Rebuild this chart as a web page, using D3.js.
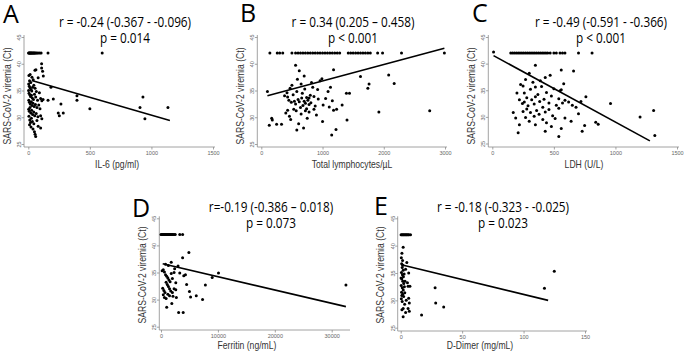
<!DOCTYPE html>
<html><head><meta charset="utf-8">
<script src="https://cdn.jsdelivr.net/npm/d3@7"></script>
<style>body{margin:0;background:#fff}svg{display:block}</style>
</head><body>
<svg id="c" width="685" height="352"></svg>
<script>
// ---------- data ----------
const yTicks = [25, 30, 35, 40, 45];
const ticksA = [0, 500, 1000, 1500];
const ticksB = [0, 1000, 2000, 3000];
const ticksC = [0, 500, 1000, 1500];
const ticksD = [0, 10000, 20000, 30000];
const ticksE = [0, 50, 100, 150];

const labelsX = ["IL-6 (pg/ml)", "Total lymphocytes/µL", "LDH (U/L)", "Ferritin (ng/mL)", "D-Dimer (mg/mL)"];
const labelY = "SARS-CoV-2 viremia (Ct)";
const letters = ["A", "B", "C", "D", "E"];
const statsA = ["r = -0.24 (-0.367 - -0.096)", "p = 0.014"];
const statsB = ["r = 0.34 (0.205 \u2013 0.458)", "p < 0.001"];
const statsC = ["r = -0.49 (-0.591 - -0.366)", "p < 0.001"];
const statsD = ["r=-0.19 (-0.386 \u2013 0.018)", "p = 0.073"];
const statsE = ["r = -0.18 (-0.323 - -0.025)", "p = 0.023"];

const fitA = [[28, 36.85], [1150, 29.4]];
const fitB = [[100, 34.0], [2990, 42.9]];
const fitC = [[10, 41.5], [1280, 25.5]];
const fitD = [[300, 36.6], [32500, 28.7]];
const fitE = [[0.5, 36.5], [120, 30.0]];

const pointsA = [
 [2,42],[6,42],[10,42],[14,42],[18,42],[22,42],[26,42],[30,42],[35,42],[40,42],[45,42],[50,42],[55,42],[62,42],[70,42],[80,42],[92,42],[104,42],[160,42],[600,42],
 [108,40],[108,39.2],[116,38.6],[54,38.8],[62,38.9],[80,37.4],[122,37.7],[15,38],[30,37.5],[40,37],[10,36.8],[20,36.5],[5,37.8],[3,36.2],
 [8,35.8],[14,35.5],[22,35.2],[28,34.9],[35,35.6],[45,36],[55,35.4],[65,34.8],[2,35],[6,34.5],[12,34.2],[18,33.9],[25,34.1],[32,33.6],[42,33.3],[50,34.3],
 [60,33.8],[75,33.2],[90,34.6],[100,33.5],[110,33.1],[120,33.3],[4,33.2],[9,32.8],[16,32.5],[24,32.9],[30,32.2],[38,32.6],[48,32],[58,32.4],[70,31.8],
 [85,32.3],[95,31.6],[3,31.5],[8,31.1],[14,31.8],[20,30.8],[27,31.3],[35,30.5],[44,31],[52,30.3],[64,30.7],[78,30.1],[100,30.3],[110,29.7],
 [5,30.2],[12,29.5],[18,29],[25,29.8],[33,29.2],[45,28.8],[10,28.6],[22,28.2],[38,27.8],[50,27.3],[55,26.8],[60,26.4],[80,28.3],[100,28],[70,29.4],
 [184,35.6],[203,33.4],[265,32.5],[284,30.8],[243,30.8],[252,30.3],[160,33.2],
 [395,34.0],[395,33.2],[500,31.6],[907,31.8],[931,33.8],[947,29.7],[1134,31.8]
];
const pointsB = [
 [140,42],[260,42],[300,42],[350,42],[500,42],[560,42],[600,42],[640,42],[680,42],[720,42],[760,42],[800,42],[840,42],[880,42],[920,42],[960,42],[1000,42],[1040,42],[1080,42],[1120,42],[1160,42],[1200,42],[1240,42],[1280,42],
 [1420,42],[1460,42],[1500,42],[1540,42],[1580,42],[1620,42],[1660,42],[1700,42],[1740,42],[1780,42],[1900,42],[1980,42],[2290,42],[2990,42],
 [100,34.8],[130,28.5],[170,29.8],[180,29.5],[250,28.7],[330,28.7],[1150,26.7],[1220,27.7],[1400,29.5],[1920,31],[2750,31.2],[2170,36.3],[2080,37.9],[1620,37.6],[1760,36.2],[1740,35.4],[1440,34.5],[1390,34.5],[1320,32.3],[1230,31.5],[1000,29.2],[1180,38.9],[560,39.7],[620,38.7],[700,37.7],
 [380,34],[420,34.6],[450,33.2],[470,35.4],[500,36],[520,34.2],[540,33],[560,32.5],[580,34.8],[600,33.3],[620,32.9],[640,31.8],[660,33.6],[680,32.2],[700,33],[720,32.6],[740,31.6],[760,33.2],[780,32.4],[800,34.1],[820,36.5],[840,35.6],[860,33.9],[880,32.1],[900,30.4],[920,35.2],[960,36.8],[990,37.2],[1010,32.3],[1050,33.5],[1090,34.8],[1110,31.9],[1130,35.6],[1160,33.1],[1180,31.3],
 [400,30.8],[430,31.3],[460,30.2],[490,32.8],[530,31.5],[570,31.2],[610,28.8],[650,30.6],[690,28],[720,31.2],[750,29.8],[780,31],[810,32.7],[580,27.6],[480,29.6],[430,33.8],[670,34.5],[710,35.3],[590,37.1],[650,36.2],[740,33.7],[780,33.6],[860,31.5],[930,33.4]
];
const pointsC = [
 [10,42.2],[150,42],[165,42],[180,42],[195,42],[210,42],[225,42],[240,42],[255,42],[270,42],[285,42],[300,42],[315,42],[330,42],[345,42],[360,42],[375,42],[390,42],[405,42],[420,42],[435,42],[450,42],[470,42],[500,42],[520,42],[550,42],[570,42],[590,42],[700,42],[810,42],
 [200,34.5],[170,30.8],[190,29.8],[220,28.5],[210,27],[960,32.5],[1200,30],[1310,31.2],[1320,26.5],[840,29],[860,28.6],[750,28.4],[730,27.3],[540,26.3],[430,27.3],[350,28.5],[660,38.6],[560,38.8],[350,39.7],
 [230,36.1],[250,35.8],[270,37],[300,38.2],[260,34.5],[280,33.6],[290,32.1],[310,35.2],[330,36.5],[350,33.8],[370,34.2],[385,32.9],[400,35.7],[420,33.3],[440,34.6],[460,32.6],[480,33.9],[500,35.3],[520,32.2],[540,33.4],
 [260,32.8],[280,31.5],[310,30.8],[340,32.4],[360,31.2],[380,30.5],[410,31.8],[430,30.9],[460,31.4],[490,30.2],[510,29.7],[540,31.6],[570,32.6],[590,33.1],[620,32.8],[650,32.2],[680,31.8],[720,32.9],[760,33.8],[560,35.1],[580,36.2],[550,34.9],
 [250,31],[270,29.9],[300,29.2],[340,30.1],[410,29.5],[440,28.9],[480,28.2],[560,27.8],[590,29.8],[640,29.2],[700,30.6],[220,33.2],[245,32.5],[390,36.8],[430,37.4],[470,37.8],[350,35.6],[320,33.2]
];
const pointsD = [
 [0,42],[150,42],[300,42],[450,42],[600,42],[750,42],[900,42],[1050,42],[1200,42],[1350,42],[1500,42],[1650,42],[1800,42],[1950,42],[2100,42],[2300,42],[2500,42],[3300,42],[3800,42],
 [4900,38.7],[3800,37.7],[4300,34.6],[4000,34.4],[4500,32.8],[5000,31.5],[5200,30.5],[6200,30.7],[7300,30],[7800,32.7],[9000,34.1],[10100,34.9],[32500,32.7],[3100,27.6],[3900,27.6],[1900,29.3],[1000,28.6],
 [200,35.3],[400,35.5],[600,35.1],[800,34.6],[1000,34.3],[1200,34],[1400,33.6],[1600,33.3],[1800,34.8],[2000,33.9],[2300,35],[2600,33.1],[300,32.1],[500,31.7],[700,31.3],[900,33.2],[1100,32.8],[1300,32.4],[1500,32],
 [1700,31.6],[2000,31.3],[2300,32],[2600,31.8],[400,30.9],[600,30.4],[900,30.2],[1200,31],[1500,30.7],[2100,30.6],[2700,30.4],[1800,36.9],[1300,36.3],[800,36.5],[2400,35.7],[3000,36.2],[3300,34.9]
];
const pointsE = [
 [0.3,42],[1,42],[1.7,42],[2.4,42],[3.1,42],[3.8,42],[4.5,42],[5.2,42],[6,42],[6.7,42],[8,42],
 [17,27.3],[28,32.3],[28.5,29.5],[35,28.8],[117,32.2],[125,35.3],[6,28.5],[7,29.5],[7,28],[4,27.8],[2,27],[1,28.3],[2,28.5],
 [2,39.7],[1,38.6],[0.5,37.8],[1.5,37.3],[0.8,36.7],[1.2,36],[2,35.5],[0.6,35.1],[1.4,34.7],[2.2,34.3],[0.9,33.9],[1.7,33.5],[2.5,33.1],[0.4,32.7],[1.3,32.3],[2.1,31.9],[3,32.5],
 [0.7,31.5],[1.6,31.1],[2.4,30.7],[0.5,30.3],[1.2,29.8],[3.5,33.5],[4,35.7],[5,36.9],[5.5,33.2],[6,32.6],[6.5,35],[7.5,32.6],[6.5,30.4],[4.5,30],[3.2,29.3],[1.8,36.4],[2.8,34.8],[3.3,31.4],[0.3,34.1],[0.9,30.9]
];

// ---------- layout ----------
const panels = [
 {pts: pointsA, fit: fitA, stats: statsA, ticks: ticksA, xr: [28.3, 213], yr: [144, 37], axX: 24, axY: 147, axEnd: 215, xmax: 1500,
  letter: [3, 23], st: [125, 22, 38], xl: [117, 168], yl: [7, 96]},
 {pts: pointsB, fit: fitB, stats: statsB, ticks: ticksB, xr: [261.3, 445], yr: [144, 37], axX: 257.3, axY: 147, axEnd: 447, xmax: 3000,
  letter: [240, 22], st: [353, 22, 38], xl: [352, 168], yl: [240, 96]},
 {pts: pointsC, fit: fitC, stats: statsC, ticks: ticksC, xr: [492.3, 677], yr: [143.5, 37], axX: 488.3, axY: 147, axEnd: 679, xmax: 1500,
  letter: [472, 22], st: [601, 22, 38], xl: [584, 168], yl: [471, 96]},
 {pts: pointsD, fit: fitD, stats: statsD, ticks: ticksD, xr: [161, 331.7], yr: [326.7, 218.3], axX: 159.3, axY: 330, axEnd: 350, xmax: 30000,
  letter: [132, 217], st: [271, 207, 223], xl: [247, 348.5], yl: [142, 275]},
 {pts: pointsE, fit: fitE, stats: statsE, ticks: ticksE, xr: [400.7, 585], yr: [327.7, 218.3], axX: 397.7, axY: 331, axEnd: 587, xmax: 150,
  letter: [374, 215], st: [503, 207, 223], xl: [480, 348.5], yl: [380, 275]}
];

const svg = d3.select("#c");
const squeeze = (sel, f) => sel.each(function(){ const w = this.getComputedTextLength(); d3.select(this).attr("textLength", w*f).attr("lengthAdjust","spacingAndGlyphs"); });

panels.forEach((p, i) => {
  const x = d3.scaleLinear().domain([0, p.xmax]).range(p.xr);
  const y = d3.scaleLinear().domain([25, 45]).range(p.yr);
  const g = svg.append("g");

  // axes
  const ya = g.append("g").attr("transform", `translate(${p.axX},0)`)
    .call(d3.axisLeft(y).tickValues(yTicks).tickSize(2.5).tickPadding(1));
  ya.select(".domain").attr("d", `M0,${p.yr[1]-2}V${p.axY}`);
  ya.selectAll("text").attr("transform", "rotate(-90)").attr("x", 0).attr("y", -3).attr("dy", 0).attr("text-anchor", "middle");
  const xa = g.append("g").attr("transform", `translate(0,${p.axY})`)
    .call(d3.axisBottom(x).tickValues(p.ticks).tickSize(2.5).tickPadding(1.5).tickFormat(d3.format("d")));
  xa.select(".domain").attr("d", `M${p.axX},0H${p.axEnd}`);
  [ya, xa].forEach(a => {
    a.selectAll("path,line").attr("stroke", "#8c8c8c").attr("stroke-width", 0.8);
    a.selectAll("text").attr("fill", "#666").attr("font-size", 5.5).attr("font-family", "Liberation Sans, Arial, sans-serif");
  });

  // points
  g.append("g").selectAll("circle").data(p.pts).join("circle")
    .attr("cx", d => x(d[0])).attr("cy", d => y(d[1])).attr("r", 1.5).attr("fill", "#000");
  // fit line
  g.append("path").datum(p.fit).attr("d", d3.line().x(d => x(d[0])).y(d => y(d[1])))
    .attr("stroke", "#000").attr("stroke-width", 1.6).attr("fill", "none");

  // axis titles
  g.append("text").attr("x", p.xl[0]).attr("y", p.xl[1]).attr("text-anchor", "middle")
    .attr("font-family", "Liberation Sans, Arial, sans-serif").attr("font-size", 10.5).attr("fill", "#333")
    .text(labelsX[i]).call(squeeze, 0.82);
  g.append("text").attr("transform", `translate(${p.yl[0]},${p.yl[1]}) rotate(-90)`).attr("dy", "0.35em").attr("text-anchor", "middle")
    .attr("font-family", "Liberation Sans, Arial, sans-serif").attr("font-size", 10.5).attr("fill", "#333")
    .text(labelY).call(squeeze, 0.82);

  // letter
  g.append("text").attr("x", p.letter[0]).attr("y", p.letter[1]).attr("font-family", "Open Sans, sans-serif")
    .attr("font-size", 25).attr("fill", "#000").text(letters[i]);
  // stats
  p.stats.forEach((s, k) => {
    g.append("text").attr("x", p.st[0]).attr("y", p.st[1 + k]).attr("dy", "0.35em").attr("text-anchor", "middle")
      .attr("font-family", "Open Sans, sans-serif").attr("font-size", 14).attr("fill", "#000")
      .text(s).call(squeeze, 0.84);
  });
});
</script>
</body></html>
